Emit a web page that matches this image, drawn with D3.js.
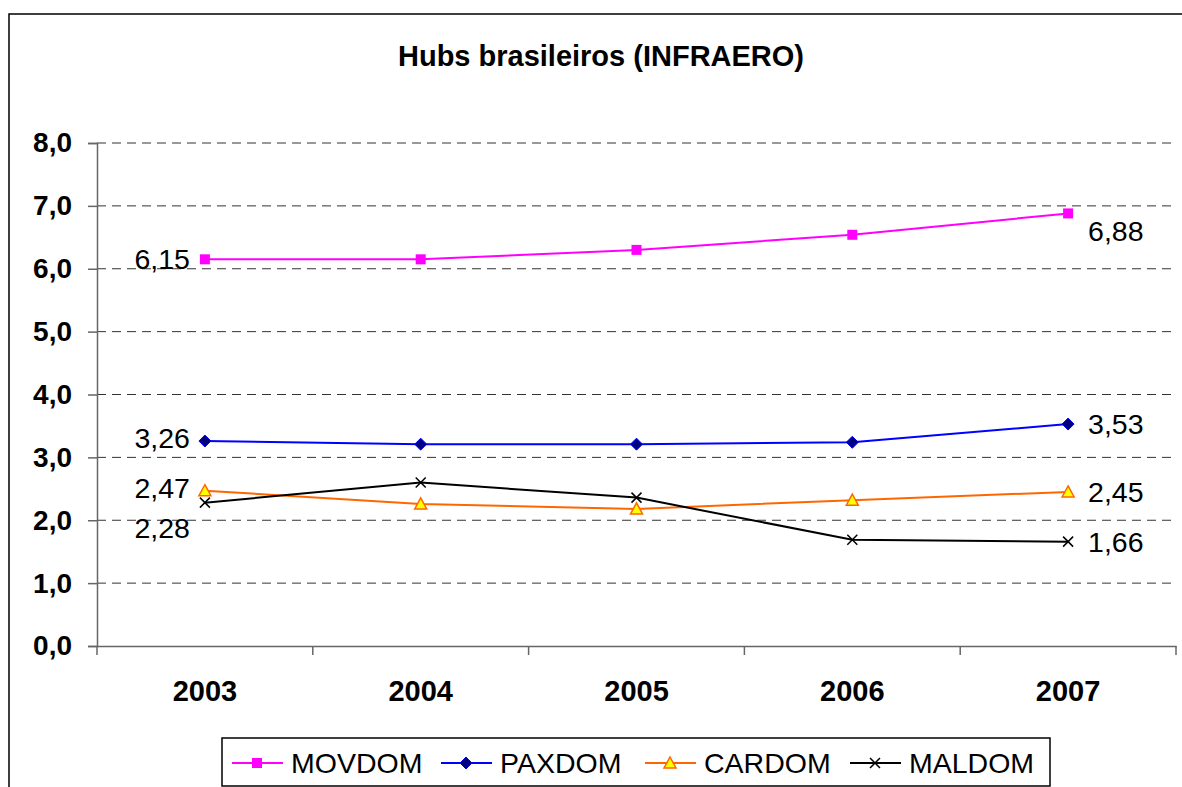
<!DOCTYPE html>
<html>
<head>
<meta charset="utf-8">
<script src="https://cdn.jsdelivr.net/npm/d3@7"></script>
<style>
  body { margin: 0; background: #fff; }
  svg { display: block; font-family: "Liberation Sans", Arial, sans-serif; }
</style>
</head>
<body>
<svg id="chart" width="1182" height="787"></svg>
<script>
// Dados
const anos = ["2003", "2004", "2005", "2006", "2007"];
const movdom = [6.15, 6.15, 6.30, 6.54, 6.88];
const paxdom = [3.26, 3.21, 3.21, 3.24, 3.53];
const cardom = [2.47, 2.26, 2.18, 2.32, 2.45];
const maldom = [2.28, 2.60, 2.36, 1.69, 1.66];
const yTicks = [0, 1, 2, 3, 4, 5, 6, 7, 8];

const series = [
  { nome: "MOVDOM", valores: movdom, cor: "#ff00ff", marcador: "square" },
  { nome: "PAXDOM", valores: paxdom, cor: "#0000ff", marcador: "diamond" },
  { nome: "CARDOM", valores: cardom, cor: "#ff6600", marcador: "triangle" },
  { nome: "MALDOM", valores: maldom, cor: "#000000", marcador: "x" }
];

// deslocamento vertical dos rótulos (evitar sobreposição)
const ajusteRotuloInicio = [0, -3, -3, 25];
const ajusteRotuloFim = [18, 0, 0, 0];

const svg = d3.select("#chart");
const locale = d3.formatLocale({ decimal: ",", thousands: ".", grouping: [3], currency: ["R$", ""] });
const fmt1 = locale.format(".1f");
const fmt2 = locale.format(".2f");

// moldura externa
svg.append("rect")
  .attr("x", 9).attr("y", 14)
  .attr("width", 1200).attr("height", 800)
  .attr("fill", "none").attr("stroke", "#000").attr("stroke-width", 1.5);

svg.append("text")
  .attr("x", 601).attr("y", 66)
  .attr("text-anchor", "middle")
  .attr("font-size", 29).attr("font-weight", "bold")
  .text("Hubs brasileiros (INFRAERO)");

const pLeft = 97, pRight = 1176, pTop = 143, pBottom = 646;

const x = d3.scaleBand().domain(anos).range([pLeft, pRight]);
const y = d3.scaleLinear().domain([0, 8]).range([pBottom, pTop]);

// grade
svg.append("g")
  .selectAll("line")
  .data(yTicks.filter(d => d > 0))
  .enter().append("line")
  .attr("x1", pLeft).attr("x2", pRight)
  .attr("y1", d => y(d)).attr("y2", d => y(d))
  .attr("stroke", "#333")
  .attr("stroke-width", 1)
  .attr("stroke-dasharray", "9,6");

// eixo Y
const eixoY = svg.append("g")
  .attr("transform", `translate(${pLeft},0)`)
  .call(d3.axisLeft(y).tickValues(yTicks).tickFormat(fmt1).tickSize(9).tickPadding(16));
eixoY.select(".domain").attr("stroke", "#666").attr("stroke-width", 1.5);
eixoY.selectAll(".tick line").attr("stroke", "#666").attr("stroke-width", 1.5);
eixoY.selectAll("text")
  .attr("font-size", 28).attr("font-weight", "bold")
  .attr("font-family", "Liberation Sans, Arial, sans-serif")
  .attr("fill", "#000");

// eixo X
const eixoX = svg.append("g")
  .attr("transform", `translate(0,${pBottom})`)
  .call(d3.axisBottom(x).tickSize(0).tickPadding(34));
eixoX.select(".domain").attr("stroke", "#666").attr("stroke-width", 1.5);
eixoX.selectAll("text")
  .attr("font-size", 29).attr("font-weight", "bold")
  .attr("font-family", "Liberation Sans, Arial, sans-serif")
  .attr("fill", "#000");
// marcas entre categorias
svg.append("g")
  .selectAll("line")
  .data(anos.map(a => x(a)).concat([pRight]))
  .enter().append("line")
  .attr("x1", d => d).attr("x2", d => d)
  .attr("y1", pBottom).attr("y2", pBottom + 9)
  .attr("stroke", "#666").attr("stroke-width", 1.5);

const cx = a => x(a) + x.bandwidth() / 2;

function desenhaMarcador(g, tipo, cor, px, py) {
  if (tipo === "square") {
    g.append("rect").attr("x", px - 5).attr("y", py - 5).attr("width", 10).attr("height", 10)
      .attr("fill", cor);
  } else if (tipo === "diamond") {
    g.append("path").attr("d", `M${px},${py - 6}L${px + 6},${py}L${px},${py + 6}L${px - 6},${py}Z`)
      .attr("fill", "#000080").attr("stroke", "#0000ff").attr("stroke-width", 1);
  } else if (tipo === "triangle") {
    g.append("path").attr("d", `M${px},${py - 6}L${px + 6},${py + 5}L${px - 6},${py + 5}Z`)
      .attr("fill", "#ffff00").attr("stroke", "#ff6600").attr("stroke-width", 1.5);
  } else {
    g.append("path").attr("d", `M${px - 5},${py - 5}L${px + 5},${py + 5}M${px + 5},${py - 5}L${px - 5},${py + 5}`)
      .attr("stroke", cor).attr("stroke-width", 1.5);
  }
}

const linha = d3.line().x((d, i) => cx(anos[i])).y(d => y(d));

series.forEach((s, k) => {
  const g = svg.append("g");
  g.append("path").datum(s.valores)
    .attr("d", linha)
    .attr("fill", "none").attr("stroke", s.cor).attr("stroke-width", 2);
  s.valores.forEach((v, i) => desenhaMarcador(g, s.marcador, s.cor, cx(anos[i]), y(v)));

  const ini = s.valores[0], fim = s.valores[s.valores.length - 1];
  g.append("text")
    .attr("x", cx(anos[0]) - 15).attr("y", y(ini) + ajusteRotuloInicio[k])
    .attr("dy", "0.35em").attr("text-anchor", "end")
    .attr("font-size", 28.5).text(fmt2(ini));
  g.append("text")
    .attr("x", cx(anos[anos.length - 1]) + 20).attr("y", y(fim) + ajusteRotuloFim[k])
    .attr("dy", "0.35em").attr("text-anchor", "start")
    .attr("font-size", 28.5).text(fmt2(fim));
});

// legenda
const leg = svg.append("g");
leg.append("rect")
  .attr("x", 222).attr("y", 738).attr("width", 828).attr("height", 48)
  .attr("fill", "#fff").attr("stroke", "#000").attr("stroke-width", 1.5);
const legX = [232, 441, 645, 850];
series.forEach((s, k) => {
  const x0 = legX[k], yy = 763;
  leg.append("line").attr("x1", x0).attr("x2", x0 + 51).attr("y1", yy).attr("y2", yy)
    .attr("stroke", s.cor).attr("stroke-width", 2);
  desenhaMarcador(leg, s.marcador, s.cor, x0 + 25, yy);
  leg.append("text").attr("x", x0 + 59).attr("y", yy).attr("dy", "0.35em")
    .attr("font-size", 28.5).text(s.nome);
});
</script>
</body>
</html>
